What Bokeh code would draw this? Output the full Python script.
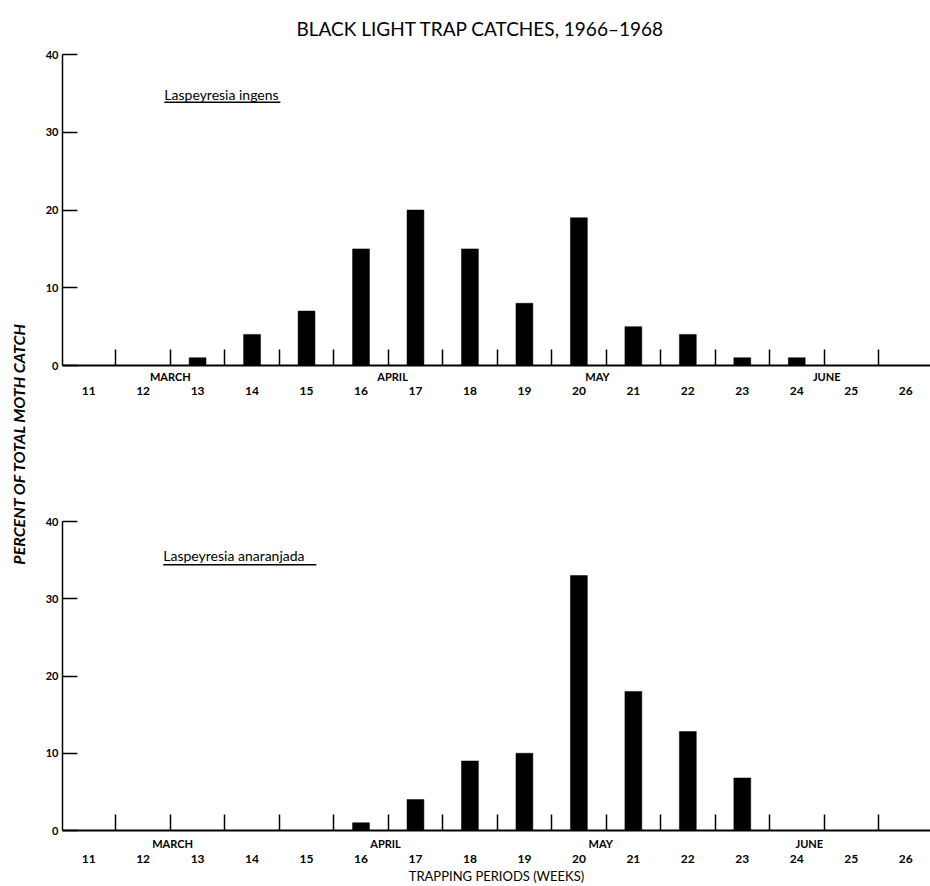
import math
from bokeh.plotting import figure
from bokeh.models import Range1d, FixedTicker, LinearAxis, Label
from bokeh.layouts import row, column
from bokeh.embed import file_html
from bokeh.resources import INLINE
from bokeh.core.properties import value

FONT = "Lato"

title_text = "BLACK LIGHT TRAP CATCHES, 1966\u20131968"
y_label_text = "PERCENT OF TOTAL MOTH CATCH"
x_label_text = "TRAPPING PERIODS (WEEKS)"

species_top = "Laspeyresia ingens"
species_bottom = "Laspeyresia anaranjada"

# percent of total moth catch per trapping week
weeks_top = [13, 14, 15, 16, 17, 18, 19, 20, 21, 22, 23, 24]
pct_top = [1, 4, 7, 15, 20, 15, 8, 19, 5, 4, 1, 1]

weeks_bottom = [16, 17, 18, 19, 20, 21, 22, 23]
pct_bottom = [1, 4, 9, 10, 33, 18, 12.8, 6.8]

week_ticks = list(range(11, 27))
period_bounds = [w + 0.5 for w in range(11, 26)]
y_ticks = [0, 10, 20, 30, 40]

month_names = ["MARCH", "APRIL", "MAY", "JUNE"]
month_pos_top = [12.5, 16.58, 20.34, 24.55]
month_pos_bottom = [12.54, 16.45, 20.40, 24.23]

X_START, X_END = 10.52, 26.455
Y_MAX = 40


def make_panel(weeks, pct, month_pos, height, b_top, b_bottom, m_stand, w_stand,
               species, sp_x, sp_y, ul_x1, ul_y):
    p = figure(width=900, height=height,
               x_range=Range1d(X_START, X_END), y_range=Range1d(0, Y_MAX),
               output_backend="svg", toolbar_location=None,
               min_border_left=32, min_border_right=0,
               min_border_top=b_top, min_border_bottom=b_bottom)
    p.outline_line_color = None
    p.background_fill_color = "white"
    p.border_fill_color = "white"
    p.xgrid.visible = False
    p.ygrid.visible = False

    p.vbar(x=weeks, top=pct, bottom=0, width=0.31,
           fill_color="black", line_color="black", line_width=0.5)

    ya = p.yaxis[0]
    ya.ticker = FixedTicker(ticks=y_ticks)
    ya.axis_line_width = 1.5
    ya.axis_line_color = "black"
    ya.major_tick_in = 15
    ya.major_tick_out = 0
    ya.major_tick_line_width = 1.5
    ya.major_tick_line_color = "black"
    ya.minor_tick_line_color = None
    ya.major_label_standoff = 4
    ya.major_label_text_font = FONT
    ya.major_label_text_font_size = "11px"
    ya.major_label_text_font_style = "bold"
    ya.major_label_text_color = "black"

    xa = p.xaxis[0]
    xa.ticker = FixedTicker(ticks=month_pos, minor_ticks=period_bounds)
    xa.major_label_overrides = {m: n for m, n in zip(month_pos, month_names)}
    xa.axis_line_width = 2
    xa.axis_line_color = "black"
    xa.major_tick_line_color = None
    xa.major_tick_in = 0
    xa.major_tick_out = 0
    xa.minor_tick_in = 16
    xa.minor_tick_out = 0
    xa.minor_tick_line_width = 1.5
    xa.minor_tick_line_color = "black"
    xa.major_label_standoff = m_stand
    xa.major_label_text_font = FONT
    xa.major_label_text_font_size = "11px"
    xa.major_label_text_font_style = "bold"
    xa.major_label_text_color = "black"

    wa = LinearAxis(ticker=FixedTicker(ticks=week_ticks))
    wa.axis_line_color = None
    wa.major_tick_line_color = None
    wa.minor_tick_line_color = None
    wa.major_label_standoff = w_stand
    wa.major_label_text_font = FONT
    wa.major_label_text_font_size = "12px"
    wa.major_label_text_font_style = "bold"
    wa.major_label_text_color = "black"
    p.add_layout(wa, "below")

    p.add_layout(Label(x=sp_x, y=sp_y, text=species, text_font=FONT,
                       text_font_size="14px", text_color="black",
                       text_baseline="middle", text_align="left"))
    p.segment(x0=[sp_x], y0=[ul_y], x1=[ul_x1], y1=[ul_y],
              line_color="black", line_width=1.5)
    return p, wa


top, _ = make_panel(weeks_top, pct_top, month_pos_top, 448, 53, 83, 4, -5,
                    species_top, 12.39, 34.8, 14.52, 33.85)
top.title.text = title_text
top.title.align = "left"
top.title.offset = 234
top.title.standoff = 29
top.title.text_font = FONT
top.title.text_font_size = "19px"
top.title.text_font_style = "normal"
top.title.text_color = "black"

bottom, wa_b = make_panel(weeks_bottom, pct_bottom, month_pos_bottom, 438, 73, 55, 6, -4,
                          species_bottom, 12.37, 35.57, 15.18, 34.4)
wa_b.axis_label = x_label_text
wa_b.axis_label_standoff = 2
wa_b.axis_label_text_font = FONT
wa_b.axis_label_text_font_size = "13px"
wa_b.axis_label_text_font_style = "normal"
wa_b.axis_label_text_color = "black"

lab = figure(width=30, height=886, x_range=Range1d(0, 1), y_range=Range1d(0, 1),
             output_backend="svg", toolbar_location=None, min_border=0,
             x_axis_type=None, y_axis_type=None)
lab.outline_line_color = None
lab.text(x=[0.6], y=[0.5], text=[y_label_text], angle=math.pi / 2,
         text_align="center", text_baseline="middle", text_font=value(FONT),
         text_font_size="16px", text_font_style="bold italic", text_color="black")

layout = row(lab, column(top, bottom))
open("out.html", "w").write(file_html(layout, INLINE))
